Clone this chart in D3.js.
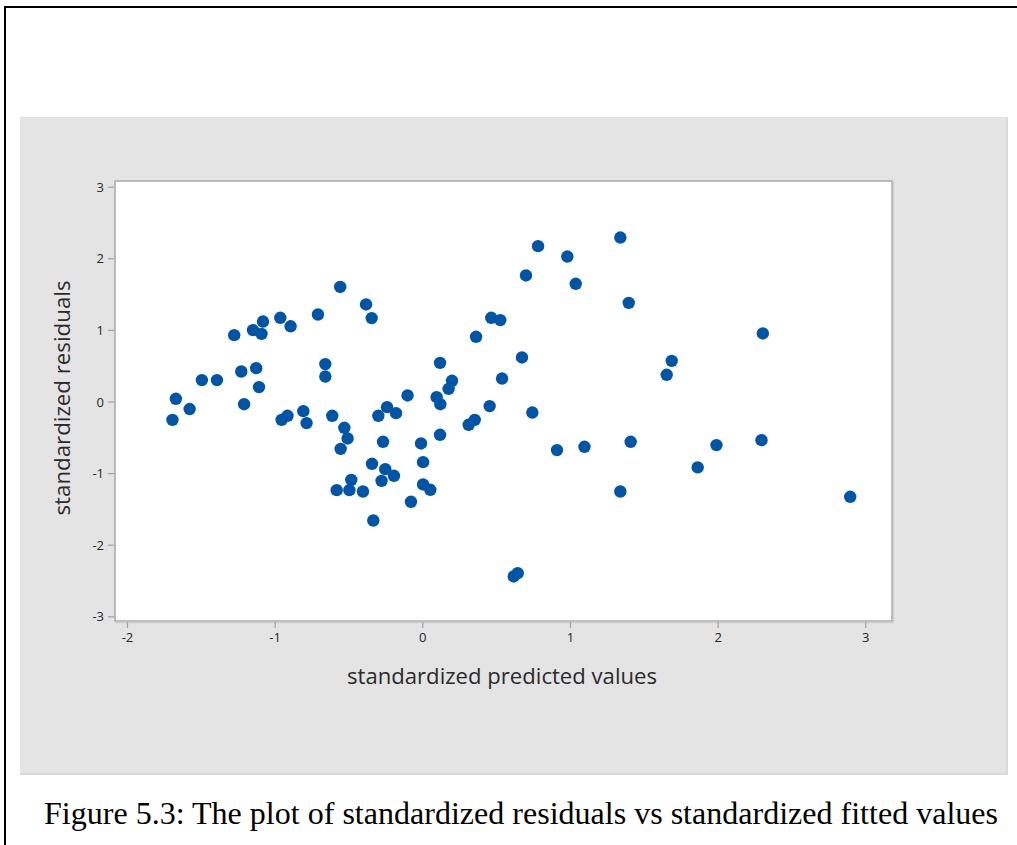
<!DOCTYPE html>
<html>
<head>
<meta charset="utf-8">
<script src="https://cdn.jsdelivr.net/npm/d3@7"></script>
<style>
  html, body { margin: 0; padding: 0; background: #ffffff; }
  svg { display: block; }
</style>
</head>
<body>
<svg id="chart" width="1017" height="845"></svg>
<script>
// Standardized predicted values (x) and standardized residuals (y)
const predicted = [
  -1.692, -1.669, -1.576, -1.493, -1.391, -1.274, -1.226, -1.207, -1.147, -1.125,
  -1.106, -1.089, -1.079, -0.962, -0.953, -0.913, -0.892, -0.806, -0.784, -0.707,
  -0.657, -0.657, -0.610, -0.556, -0.553, -0.528, -0.506, -0.580, -0.494, -0.481,
  -0.402, -0.381, -0.343, -0.341, -0.332, -0.298, -0.266, -0.251, -0.276, -0.239,
  -0.192, -0.178, -0.100, -0.077, -0.009, 0.005, 0.005, 0.054, 0.097, 0.120,
  0.122, 0.120, 0.178, 0.201, 0.314, 0.355, 0.364, 0.456, 0.467, 0.528,
  0.540, 0.619, 0.646, 0.675, 0.702, 0.745, 0.784, 0.912, 0.982, 1.039,
  1.098, 1.341, 1.341, 1.398, 1.411, 1.655, 1.689, 1.865, 1.992, 2.297,
  2.306, 2.898
];
const residuals = [
  -0.256, 0.038, -0.105, 0.299, 0.299, 0.927, 0.419, -0.038, 0.997, 0.466,
  0.201, 0.945, 1.117, 1.169, -0.256, -0.200, 1.050, -0.135, -0.302, 1.215,
  0.522, 0.349, -0.200, 1.600, -0.661, -0.367, -0.516, -1.238, -1.238, -1.094,
  -1.257, 1.355, 1.165, -0.870, -1.662, -0.200, -0.563, -0.945, -1.108, -0.079,
  -1.038, -0.163, 0.084, -1.401, -0.586, -0.847, -1.159, -1.233, 0.061, 0.540,
  -0.038, -0.465, 0.177, 0.289, -0.325, -0.256, 0.904, -0.064, 1.169, 1.137,
  0.321, -2.444, -2.397, 0.615, 1.760, -0.154, 2.170, -0.679, 2.025, 1.644,
  -0.633, 2.290, -1.257, 1.378, -0.563, 0.373, 0.568, -0.920, -0.609, -0.540,
  0.950, -1.331
];
const xTicks = [-2, -1, 0, 1, 2, 3];
const yTicks = [-3, -2, -1, 0, 1, 2, 3];

const xTitle = "standardized predicted values";
const yTitle = "standardized residuals";
const caption = "Figure 5.3: The plot of standardized residuals vs standardized fitted values";

const svg = d3.select("#chart");
const sans = "'Open Sans', 'Noto Sans', sans-serif";

// page frame lines (top and left)
svg.append("line").attr("x1", 5).attr("x2", 1017).attr("y1", 7).attr("y2", 7)
  .attr("stroke", "#000").attr("stroke-width", 2);
svg.append("line").attr("x1", 5).attr("x2", 5).attr("y1", 6).attr("y2", 845)
  .attr("stroke", "#000").attr("stroke-width", 2);

// grey graph panel with a soft edge on the right and bottom
svg.append("rect").attr("x", 20).attr("y", 117).attr("width", 988).attr("height", 658)
  .attr("fill", "#d8d8d8");
svg.append("rect").attr("x", 20).attr("y", 117).attr("width", 986).attr("height", 656)
  .attr("fill", "#e4e4e4");

// plot region
const frame = { left: 115, top: 181, right: 892, bottom: 621 };
const x = d3.scaleLinear().domain([-2, 3]).range([127, 865.3]);
const y = d3.scaleLinear().domain([-3, 3]).range([616.3, 186.7]);

svg.append("rect")
  .attr("x", frame.left).attr("y", frame.top)
  .attr("width", frame.right - frame.left).attr("height", frame.bottom - frame.top)
  .attr("fill", "#ffffff").attr("stroke", "#a9a9a9").attr("stroke-width", 1.5);
// slight shadow along the right and bottom edges of the data region
svg.append("line").attr("x1", frame.right + 1.5).attr("x2", frame.right + 1.5)
  .attr("y1", frame.top).attr("y2", frame.bottom + 1.5)
  .attr("stroke", "#cfcfcf").attr("stroke-width", 1.5);
svg.append("line").attr("x1", frame.left).attr("x2", frame.right + 2)
  .attr("y1", frame.bottom + 1.5).attr("y2", frame.bottom + 1.5)
  .attr("stroke", "#cfcfcf").attr("stroke-width", 1.5);

// axes (plain hyphen for negative labels)
const fmt = d => String(d);
const xAxis = d3.axisBottom(x).tickValues(xTicks).tickSize(6).tickPadding(5).tickFormat(fmt);
const yAxis = d3.axisLeft(y).tickValues(yTicks).tickSize(6).tickPadding(4).tickFormat(fmt);

const gx = svg.append("g").attr("transform", `translate(0,${frame.bottom + 1})`).call(xAxis);
const gy = svg.append("g").attr("transform", `translate(${frame.left - 1},0)`).call(yAxis);

[gx, gy].forEach(g => {
  g.select(".domain").remove();
  g.selectAll(".tick line").attr("stroke", "#a0a0a0").attr("stroke-width", 1.2);
  g.selectAll(".tick text")
    .attr("fill", "#262626")
    .style("font-family", sans)
    .style("font-size", "13px");
});
gy.selectAll(".tick text").attr("dy", "0.36em");

// axis titles
svg.append("text")
  .attr("x", 502).attr("y", 684)
  .attr("text-anchor", "middle")
  .attr("textLength", 310).attr("lengthAdjust", "spacingAndGlyphs")
  .style("font-family", sans)
  .style("font-size", "21px").attr("fill", "#2b2b2b")
  .text(xTitle);

svg.append("text")
  .attr("transform", `translate(70,398) rotate(-90)`)
  .attr("text-anchor", "middle")
  .attr("textLength", 235).attr("lengthAdjust", "spacingAndGlyphs")
  .style("font-family", sans)
  .style("font-size", "21px").attr("fill", "#2b2b2b")
  .text(yTitle);

// points
const points = predicted.map((v, i) => ({ px: v, res: residuals[i] }));
svg.append("g").selectAll("circle").data(points).join("circle")
  .attr("cx", d => x(d.px))
  .attr("cy", d => y(d.res))
  .attr("r", 6.2)
  .attr("fill", "#0055a6");

// figure caption
svg.append("text")
  .attr("x", 44).attr("y", 824)
  .attr("textLength", 954).attr("lengthAdjust", "spacingAndGlyphs")
  .style("font-family", "'Liberation Serif', 'Times New Roman', serif")
  .style("font-size", "32px").attr("fill", "#000")
  .text(caption);
</script>
</body>
</html>
